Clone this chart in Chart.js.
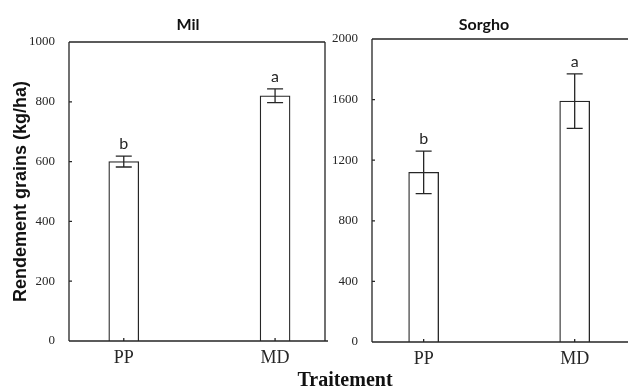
<!DOCTYPE html>
<html>
<head>
<meta charset="utf-8">
<script src="https://cdn.jsdelivr.net/npm/chart.js@4"></script>
<style>
html, body { margin: 0; padding: 0; background: #fff; overflow: hidden; width: 628px; height: 392px; }
#wrap { position: relative; width: 628px; height: 392px; overflow: hidden; }
canvas { position: absolute; top: 0; }
#xtitle { position: absolute; left: 245px; width: 200px; top: 368px; text-align: center;
  font: bold 20px "Liberation Serif", "Times New Roman", serif; color: #111; }
</style>
</head>
<body>
<div id="wrap">
  <canvas id="mil" width="330" height="392" style="left:0"></canvas>
  <canvas id="sorgho" width="310" height="392" style="left:330px"></canvas>
  <div id="xtitle">Traitement</div>
</div>
<script>
const categories = ['PP', 'MD'];

const milValues = [600, 820];
const milErrors = [18, 23];
const milLetters = ['b', 'a'];
const milTicks = [0, 200, 400, 600, 800, 1000];

const sorghoValues = [1120, 1590];
const sorghoErrors = [140, 180];
const sorghoLetters = ['b', 'a'];
const sorghoTicks = [0, 400, 800, 1200, 1600, 2000];

const ink = '#262626';

function drawPanel(id, cfg) {
    // error bars, letters, frame and small inward ticks
    const decor = {
        id: 'decor',
        afterDatasetsDraw(chart) {
            const { ctx, chartArea: a, scales: { x, y } } = chart;
            ctx.save();
            ctx.strokeStyle = ink;
            ctx.fillStyle = ink;
            ctx.lineWidth = 1.3;

            cfg.values.forEach((v, i) => {
                const px = x.getPixelForValue(i);
                const top = y.getPixelForValue(v + cfg.errors[i]);
                const bot = y.getPixelForValue(v - cfg.errors[i]);
                ctx.beginPath();
                ctx.moveTo(px, top); ctx.lineTo(px, bot);
                ctx.moveTo(px - 8, top); ctx.lineTo(px + 8, top);
                ctx.moveTo(px - 8, bot); ctx.lineTo(px + 8, bot);
                ctx.stroke();
                ctx.font = '16px Lato';
                ctx.textAlign = 'center';
                ctx.textBaseline = 'alphabetic';
                ctx.fillText(cfg.letters[i], px, top - 7);
            });

            ctx.beginPath();
            ctx.moveTo(a.left, a.top); ctx.lineTo(a.right, a.top);
            ctx.moveTo(a.left, a.top); ctx.lineTo(a.left, a.bottom);
            ctx.moveTo(a.left, a.bottom); ctx.lineTo(a.right + 3, a.bottom);
            if (cfg.rightBorder) {
                ctx.moveTo(a.right, a.top); ctx.lineTo(a.right, a.bottom);
            }
            y.ticks.forEach(t => {
                const py = y.getPixelForValue(t.value);
                ctx.moveTo(a.left, py); ctx.lineTo(a.left + 3, py);
            });
            categories.forEach((c, i) => {
                const px = x.getPixelForValue(i);
                ctx.moveTo(px, a.bottom); ctx.lineTo(px, a.bottom - 3);
            });
            ctx.stroke();

            ctx.font = 'bold 16px Lato';
            ctx.textAlign = 'center';
            ctx.fillStyle = '#111';
            ctx.fillText(cfg.title, cfg.titleX, 29.5);
            ctx.restore();
        }
    };

    new Chart(document.getElementById(id), {
        type: 'bar',
        data: {
            datasets: [{
                data: cfg.values.map((v, i) => ({ x: i, y: v })),
                backgroundColor: '#fff',
                borderColor: ink,
                borderWidth: 1.3,
                barThickness: 30
            }]
        },
        options: {
            responsive: false,
            animation: false,
            layout: { padding: cfg.padding },
            plugins: {
                legend: { display: false },
                tooltip: { enabled: false }
            },
            scales: {
                x: {
                    type: 'linear',
                    offset: false,
                    min: cfg.xRange[0],
                    max: cfg.xRange[1],
                    afterBuildTicks: s => { s.ticks = categories.map((c, i) => ({ value: i })); },
                    afterFit: s => { s.height = cfg.xHeight; },
                    grid: { display: false },
                    border: { display: false },
                    ticks: {
                        callback: v => categories[v],
                        font: { family: 'Liberation Serif', size: 18 },
                        color: ink,
                        padding: -2,
                        maxRotation: 0,
                        autoSkip: false
                    }
                },
                y: {
                    min: 0,
                    max: cfg.yTicks[cfg.yTicks.length - 1],
                    afterBuildTicks: s => { s.ticks = cfg.yTicks.map(v => ({ value: v })); },
                    afterFit: s => { s.width = cfg.yWidth; },
                    grid: { display: false },
                    border: { display: false },
                    ticks: {
                        callback: v => String(v),
                        font: { family: 'Liberation Serif', size: 13 },
                        color: ink,
                        padding: 6
                    },
                    title: {
                        display: !!cfg.yTitle,
                        text: cfg.yTitle || '',
                        font: { family: 'Liberation Sans', size: 18, weight: 'bold' },
                        color: '#111',
                        padding: { top: 10, bottom: 0 }
                    }
                }
            }
        },
        plugins: [decor]
    });
}

drawPanel('mil', {
    values: milValues, errors: milErrors, letters: milLetters, yTicks: milTicks,
    title: 'Mil', titleX: 188, yTitle: 'Rendement grains (kg/ha)',
    padding: { top: 42, right: 5, left: 0, bottom: 0 },
    yWidth: 69, xHeight: 51, xRange: [-0.362, 1.33], rightBorder: true
});

drawPanel('sorgho', {
    values: sorghoValues, errors: sorghoErrors, letters: sorghoLetters, yTicks: sorghoTicks,
    title: 'Sorgho', titleX: 154, yTitle: null,
    padding: { top: 39, right: 12, left: 0, bottom: 0 },
    yWidth: 42, xHeight: 50, xRange: [-0.342, 1.353], rightBorder: false
});
</script>
</body>
</html>
